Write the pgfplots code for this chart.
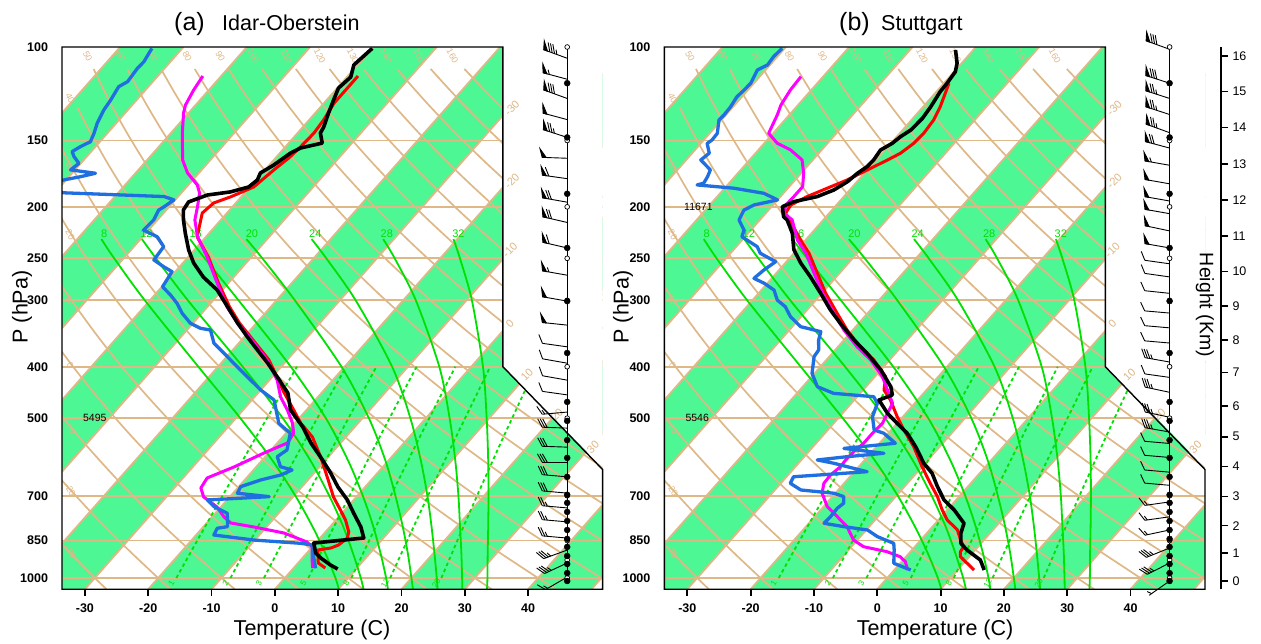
\documentclass[border=0pt]{standalone}
\usepackage{fontspec}
\setmainfont{Liberation Sans}
\usepackage{pgfplots}
\usepackage{pgfplotstable}
\pgfplotsset{compat=1.18}

\definecolor{bandgreen}{RGB}{77,247,148}
\definecolor{tanline}{RGB}{222,184,135}
\definecolor{mgreen}{RGB}{0,225,0}
\definecolor{obsblue}{RGB}{31,111,224}
\definecolor{dewmag}{RGB}{255,0,255}
\definecolor{tred}{RGB}{255,0,0}
\newcommand\fs[1]{\fontsize{#1pt}{#1pt}\selectfont}

\pgfplotsset{
  /pgfplots/table/skewt/.style={x expr={0.54*\thisrow{T}+0.90692*(132.182-19.1354*ln(\thisrow{p}))}, y expr={132.182-19.1354*ln(\thisrow{p})}},
  /pgfplots/table/skewcol/.style={x expr={0.54*\thisrow{#1}+0.90692*(132.182-19.1354*ln(\thisrow{p}))}, y expr={132.182-19.1354*ln(\thisrow{p})}},
  /pgfplots/table/barbcol/.style={x expr=24.08, y expr={132.182-19.1354*ln(\thisrow{p})}},
}

% wind barb mark
\pgfdeclareplotmark{barb}{%
  \pgfscope
  \pgfkeys{/pgf/fpu=false}%
  \pgfmathsetmacro\bang{90-\wdir}%
  \pgfmathtruncatemacro\npen{floor(\wspd/50)}%
  \pgfmathtruncatemacro\nfull{floor((\wspd-50*\npen)/10)}%
  \pgfmathtruncatemacro\nhalf{((\wspd-50*\npen-10*\nfull)>=5) ? 1 : 0}%
  \pgftransformrotate{\bang}%
  \pgfsetlinewidth{0.9pt}%
  \pgfpathmoveto{\pgfpointorigin}%
  \pgfpathlineto{\pgfpoint{25pt}{0pt}}%
  \pgfusepath{stroke}%
  \def\bpos{25}%
  \ifnum\npen>0
    \foreach \k in {1,...,\npen}{%
      \pgfmathsetmacro\ba{25-(\k-1)*5}%
      \pgfpathmoveto{\pgfpoint{\ba pt}{0pt}}%
      \pgfpathlineto{\pgfpoint{\ba pt+2.5pt}{-8.5pt}}%
      \pgfpathlineto{\pgfpoint{\ba pt-4pt}{0pt}}%
      \pgfpathclose
      \pgfusepath{fill,stroke}%
    }%
    \pgfmathsetmacro\bpos{25-\npen*5-1.5}%
  \fi
  \ifnum\nfull>0
    \foreach \k in {1,...,\nfull}{%
      \pgfmathsetmacro\ba{\bpos-(\k-1)*2.5}%
      \pgfpathmoveto{\pgfpoint{\ba pt}{0pt}}%
      \pgfpathlineto{\pgfpoint{\ba pt+4.8pt}{-8.3pt}}%
      \pgfusepath{stroke}%
    }%
  \fi
  \ifnum\nhalf>0
    \pgfmathsetmacro\ba{\bpos-\nfull*2.5-((\npen+\nfull)==0 ? 3 : 0)}%
    \pgfpathmoveto{\pgfpoint{\ba pt}{0pt}}%
    \pgfpathlineto{\pgfpoint{\ba pt+2.4pt}{-4.2pt}}%
    \pgfusepath{stroke}%
  \fi
  \endpgfscope
}

% ---------------- background tables ----------------
\pgfplotstableread{
p d
1050 0
1000 0
950 0
900 0
850 0
800 0
750 0
700 0
650 0
600 0
550 0
500 0
450 0
400 0
350 0
300 0
270 0
240 0
210 0
185 0
165 0
145 0
130 0
120 0
110 0
}\drypA
\pgfplotstableread{
p d
1050 0
1000 0
950 0
900 0
850 0
800 0
750 0
700 0
650 0
600 0
550 0
500 0
450 0
400 0
350 0
300 0
270 0
240 0
210 0
185 0
165 0
145 0
130 0
}\drypB
\pgfplotstableread{
p m8 m12 m16 m20 m24 m28 m32
1050 10.1 14.0 17.85 21.8 25.7 29.6 33.5
1000 8 12 16 20 24 28 32
900 3.05 7.4 11.75 16.05 20.25 24.5 28.65
800 -2.8 2.05 6.8 11.45 16.0 20.5 24.95
700 -9.8 -4.45 0.85 6.0 11.05 15.95 20.7
600 -18.4 -12.4 -6.45 -0.55 5.05 10.5 15.7
500 -29.3 -22.6 -15.8 -9.0 -2.45 3.75 9.6
400 -43.1 -36.1 -28.5 -20.5 -12.5 -5.05 1.85
300 -60.8 -54.0 -46.0 -37.1 -27.5 -18.0 -9.15
250 -71.5 -64.9 -57.2 -48.1 -38.0 -27.2 -16.9
230 -76.2 -69.8 -62.2 -53.3 -43.0 -31.7 -20.6
}\moisttab
\pgfplotstableread{
p w1 w2 w3 w5 w8 w12 w20
1000 -17.13 -8.58 -3.29 3.72 10.51 16.64 24.72
850 -19.05 -10.65 -5.44 1.43 8.10 14.11 22.03
700 -21.30 -13.07 -7.97 -1.24 5.27 11.15 18.89
550 -24.03 -16.01 -11.04 -4.49 1.85 7.57 15.08
400 -27.54 -19.77 -14.98 -8.64 -2.52 2.99 10.23
}\mixtab
\pgfplotstableread{
p d
1000 0
925 0
850 0
700 0
500 0
400 0
300 0
250 0
200 0
150 0
100 0
}\circlev
\pgfplotstableread{
p d
1013 0
979 0
941 0
909 0
874 0
844 0
812 0
781 0
751 0
722 0
697 0
645 0
594 0
550 0
506 0
466 0
377 0
301 0
239 0
189 0
148 0
117 0
}\dotlev

% ---------------- (a) Idar-Oberstein ----------------
\pgfplotstableread{
p T
100.6 -60.0
108.1 -60.6
113.9 -59.4
119.5 -59.8
125.9 -58.9
133.1 -57.9
141.5 -56.7
145.2 -56.4
151.7 -54.7
154.9 -57.4
158.3 -58.3
166.9 -59.3
172.7 -60.3
178.0 -59.8
183.5 -60.2
187.5 -62.4
190.0 -65.6
195.8 -67.6
202.8 -67.3
211.7 -65.9
224.0 -63.8
241.1 -60.9
255.1 -58.3
271.2 -54.8
286.9 -50.8
308.7 -46.8
331.0 -43.0
351.6 -39.5
372.1 -36.1
393.6 -32.7
418.3 -29.2
448.3 -25.3
482.7 -22.5
519.6 -18.2
556.8 -14.7
599.4 -10.5
634.2 -7.4
673.9 -4.3
712.9 -1.0
754.4 1.8
801.5 4.9
840.8 6.9
848.2 4.0
859.3 -0.3
897.4 1.4
917.1 2.9
945.2 5.4
961.8 7.1
}\LBlack
\pgfplotstableread{
p T
113.4 -58.4
119.5 -58.4
127.5 -58.4
137.2 -57.7
145.2 -57.4
154.3 -57.6
161.8 -57.9
170.4 -58.6
183.5 -59.4
191.6 -61.7
196.7 -63.5
205.4 -63.9
227.7 -61.4
248.6 -56.8
278.2 -51.6
308.7 -46.5
331.0 -42.7
360.9 -37.4
388.5 -32.9
423.8 -28.6
446.3 -26.1
482.7 -22.0
510.6 -19.1
542.5 -15.3
591.6 -11.2
653.9 -6.8
703.9 -3.6
744.6 -0.7
777.7 1.5
819.3 3.7
840.8 4.3
866.6 3.9
878.0 3.1
885.7 1.3
937.1 3.2
957.6 5.0
}\LRed
\pgfplotstableread{
p T
113.4 -82.9
120.5 -82.4
128.6 -81.6
133.1 -80.8
145.2 -78.2
163.2 -74.4
172.7 -71.8
181.9 -68.6
188.4 -67.1
200.1 -65.5
211.7 -64.1
227.9 -61.3
233.9 -60.0
248.6 -57.0
278.2 -51.8
308.7 -46.9
331.0 -43.0
360.9 -37.6
388.5 -33.2
423.8 -28.8
456.1 -25.9
482.7 -23.0
510.6 -20.4
533.3 -18.8
556.8 -18.4
581.5 -20.7
618.0 -23.5
648.0 -26.2
676.9 -25.8
703.9 -24.1
735.0 -20.6
767.6 -18.1
787.9 -16.2
801.5 -12.0
822.8 -6.4
855.6 -1.5
874.2 0.0
924.9 1.8
957.6 3.0
}\LMag
\pgfplotstableread{
p T
100.6 -94.8
106.6 -94.2
109.7 -94.3
116.2 -94.0
118.8 -94.7
125.9 -94.1
131.4 -93.8
139.2 -93.0
145.4 -92.1
150.8 -91.5
154.1 -92.4
157.4 -93.0
160.9 -92.0
165.6 -90.3
170.4 -90.7
172.9 -86.3
175.5 -88.2
178.0 -90.4
182.7 -93.2
188.2 -88.6
191.3 -72.2
194.1 -70.2
199.9 -70.8
202.8 -71.2
211.7 -70.6
221.2 -70.8
227.7 -67.7
237.7 -65.3
251.8 -65.0
259.3 -62.5
264.9 -60.5
282.8 -59.9
293.1 -57.5
303.9 -55.3
317.3 -53.1
331.4 -50.4
338.7 -48.1
341.2 -46.3
361.4 -43.9
377.5 -40.9
394.1 -38.0
417.7 -34.0
442.6 -30.0
462.2 -26.5
511.3 -22.5
533.9 -19.3
574.1 -17.5
590.9 -18.1
617.2 -16.2
626.1 -13.9
639.8 -15.0
653.9 -17.5
672.9 -19.7
692.5 -19.3
702.8 -13.8
712.9 -23.1
734.0 -21.1
755.4 -18.1
800.4 -16.2
806.0 -17.6
829.9 -17.2
848.2 -10.2
860.4 -2.3
866.6 -0.3
912.0 1.6
958.8 3.5
}\LBlue
\pgfplotstableread{
p dir spd
105 290 85
115 285 55
125 290 80
137 285 50
148 288 75
162 272 50
177 278 60
196 280 70
214 283 70
239 283 60
269 280 55
301 280 50
334 276 50
367 278 10
394 280 10
424 280 10
452 278 10
487 265 15
522 272 30
567 272 30
605 270 30
645 275 30
692 275 30
738 275 25
784 275 25
841 275 25
886 250 35
937 245 35
996 240 15
}\LBarbs

% ---------------- (b) Stuttgart ----------------
\pgfplotstableread{
p T
101.3 -62.8
107.3 -60.7
111.3 -59.8
117.0 -59.5
121.4 -59.4
129.6 -58.8
136.2 -58.5
143.3 -58.7
147.5 -59.4
151.9 -59.8
156.3 -60.7
163.2 -60.4
168.0 -60.5
172.9 -61.1
179.3 -61.5
185.9 -62.5
191.3 -64.2
195.6 -67.2
199.9 -68.3
208.8 -66.7
211.7 -65.7
224.4 -63.0
240.8 -60.5
255.4 -57.5
270.9 -54.1
290.9 -50.2
312.9 -46.3
331.4 -42.9
356.3 -38.4
377.5 -34.5
405.7 -30.0
436.2 -26.1
452.1 -24.7
462.2 -26.1
489.7 -22.9
511.3 -20.0
533.9 -17.0
566.0 -13.8
608.1 -10.2
635.1 -7.5
672.9 -4.8
712.9 -1.9
744.6 1.1
788.8 4.5
824.1 5.4
860.4 6.8
885.7 8.7
924.9 12.2
965.9 14.2
}\RBlack
\pgfplotstableread{
p T
117.0 -59.2
124.1 -58.1
129.6 -57.3
137.2 -56.5
145.4 -56.2
151.9 -56.4
158.5 -57.1
163.2 -58.2
170.4 -60.0
178.0 -61.8
184.5 -63.8
191.3 -65.8
198.4 -67.2
205.6 -66.9
215.0 -64.5
230.9 -60.8
244.6 -57.6
266.8 -53.5
290.9 -49.4
317.3 -44.8
341.2 -40.9
366.8 -36.5
388.5 -32.5
417.7 -28.3
442.6 -26.7
462.2 -24.3
496.9 -20.9
526.2 -18.0
566.0 -14.1
617.2 -10.0
663.3 -6.4
702.8 -3.4
744.6 -0.8
777.7 1.4
812.0 4.4
848.2 6.3
873.1 7.7
892.2 7.9
912.0 8.6
931.8 10.1
965.9 12.6
}\RRed
\pgfplotstableread{
p T
113.7 -83.5
120.5 -83.3
128.6 -82.7
134.2 -81.9
145.4 -80.7
151.9 -77.9
156.3 -74.9
163.2 -71.7
172.9 -69.6
183.2 -67.9
191.3 -67.9
198.4 -68.0
205.6 -67.1
211.7 -64.9
230.9 -61.3
244.6 -58.1
266.8 -54.0
290.9 -49.9
317.3 -45.3
341.2 -41.4
366.8 -37.0
388.5 -33.0
417.7 -28.8
449.0 -25.5
468.8 -23.5
489.7 -22.9
511.3 -22.3
533.9 -22.5
557.5 -22.5
578.2 -22.9
599.4 -23.0
617.2 -22.9
639.8 -23.3
663.3 -23.2
692.5 -22.1
734.0 -19.4
766.8 -16.4
800.4 -13.5
848.2 -10.6
873.1 -8.1
892.2 -3.7
912.0 -0.9
931.8 0.6
965.9 2.1
}\RMag
\pgfplotstableread{
p T
100.6 -90.4
104.3 -90.6
108.1 -90.4
110.5 -91.3
117.0 -90.5
120.5 -90.6
124.1 -90.8
129.6 -90.4
134.2 -90.3
137.2 -90.4
145.4 -88.8
149.7 -88.7
151.9 -89.0
158.5 -87.3
163.2 -87.7
170.4 -84.8
175.5 -84.3
180.5 -84.0
181.9 -84.8
184.5 -78.5
188.6 -73.1
194.1 -70.0
198.4 -73.0
202.8 -73.9
211.7 -73.3
221.2 -71.1
227.7 -70.5
237.7 -66.7
244.6 -65.3
253.7 -61.7
263.0 -62.4
272.7 -62.8
278.6 -60.5
286.9 -58.0
299.6 -56.1
308.4 -53.9
322.0 -51.7
336.3 -48.7
338.7 -47.4
343.7 -44.8
356.3 -44.0
372.1 -42.6
382.9 -42.4
411.6 -40.4
436.2 -37.7
449.0 -34.2
455.6 -27.4
468.8 -25.9
496.9 -24.8
526.2 -22.7
533.9 -20.7
557.5 -17.5
570.1 -24.9
582.3 -17.9
590.9 -23.2
599.4 -27.5
608.1 -24.4
621.5 -20.6
630.7 -18.0
644.6 -28.9
663.3 -28.5
682.8 -25.9
692.5 -20.2
702.8 -18.2
723.3 -17.3
739.1 -17.6
766.8 -17.5
788.8 -17.6
800.4 -14.0
812.0 -9.8
836.0 -7.3
860.4 -3.8
885.7 -2.8
912.0 -1.9
938.3 -1.0
965.9 2.6
}\RBlue
\pgfplotstableread{
p dir spd
101 290 80
117 288 80
125 288 75
134 288 75
145 290 75
155 285 70
167 280 55
181 280 50
195 280 50
206 280 50
222 282 50
239 280 50
256 278 10
271 278 10
291 276 10
317 275 10
338 275 10
361 275 10
392 280 35
419 278 10
447 282 35
498 282 35
531 280 35
558 275 10
593 275 10
632 275 10
669 275 10
719 262 15
767 262 15
812 258 15
878 248 35
937 243 35
1013 235 5
}\RBarbs

% ---------------- common drawing ----------------
\newcommand\skewbg{%
  \pgfplotsinvokeforeach{-120,-100,...,40}{%
    \fill[bandgreen] (axis cs:{0.54*##1-0.84761},-0.9346) -- (axis cs:{0.54*(##1+10)-0.84761},-0.9346) -- (axis cs:{0.54*(##1+10)+39.960},44.061) -- (axis cs:{0.54*##1+39.960},44.061) -- cycle;}
  \pgfplotsinvokeforeach{-120,-110,...,50}{%
    \draw[tanline, line width=1.8pt] (axis cs:{0.54*##1-0.84761},-0.9346) -- (axis cs:{0.54*##1+39.960},44.061);}
  \pgfplotsinvokeforeach{0,3.109,6.825,13.263,17.532,23.037,26.526,30.796,36.301}{%
    \draw[tanline, line width=1.8pt] (axis cs:-19,##1) -- (axis cs:27.1,##1);}
  \pgfplotsinvokeforeach{50,60,...,160}{%
    \addplot[tanline, line width=1.7pt, smooth, mark=none] table[x expr={0.54*((##1+273.15)*(\thisrow{p}/1000)^0.28571-273.15)+0.90692*(132.182-19.1354*ln(\thisrow{p}))}, y expr={132.182-19.1354*ln(\thisrow{p})}] {\drypA};
    \node[text=tanline, font=\fs{9}, rotate=-62] at (axis cs:{0.54*((##1+273.15)*0.5238-273.15)+39.28},43.3) {##1};}
  \pgfplotsinvokeforeach{-30,-20,...,40}{%
    \addplot[tanline, line width=1.7pt, smooth, mark=none] table[x expr={0.54*((##1+273.15)*(\thisrow{p}/1000)^0.28571-273.15)+0.90692*(132.182-19.1354*ln(\thisrow{p}))}, y expr={132.182-19.1354*ln(\thisrow{p})}] {\drypB};}
  \pgfplotsinvokeforeach{m8,m12,m16,m20,m24,m28,m32}{%
    \addplot[mgreen, line width=1.8pt, smooth, mark=none] table[skewcol=##1] {\moisttab};}
  \pgfplotsinvokeforeach{w1,w2,w3,w5,w8,w12,w20}{%
    \addplot[mgreen, line width=1.8pt, dash pattern=on 3.5pt off 3pt, mark=none] table[skewcol=##1] {\mixtab};}
  % dry adiabat labels on left edge
  \node[text=tanline, font=\fs{9}, rotate=-62] at (axis cs:-18.3,39.83) {40};
  \node[text=tanline, font=\fs{9}, rotate=-62] at (axis cs:-18.3,34.11) {30};
  \node[text=tanline, font=\fs{9}, rotate=-62] at (axis cs:-18.3,28.47) {20};
  \node[text=tanline, font=\fs{9}, rotate=-62] at (axis cs:-18.3,23.07) {10};
  \node[text=tanline, font=\fs{9}, rotate=-62] at (axis cs:-18.3,17.68) {0};
  \node[text=tanline, font=\fs{9}, rotate=-62] at (axis cs:-18.3,12.45) {-10};
  \node[text=tanline, font=\fs{9}, rotate=-62] at (axis cs:-18.3,7.31) {-20};
  \node[text=tanline, font=\fs{9}, rotate=-62] at (axis cs:-18.3,2.16) {-30};
  % moist adiabat labels
  \node[text=mgreen, font=\fs{11}] at (axis cs:-15.4,28.55) {8};
  \node[text=mgreen, font=\fs{11}] at (axis cs:-11.8,28.55) {12};
  \node[text=mgreen, font=\fs{11}] at (axis cs:-7.6,28.55) {16};
  \node[text=mgreen, font=\fs{11}] at (axis cs:-2.8,28.55) {20};
  \node[text=mgreen, font=\fs{11}] at (axis cs:2.6,28.55) {24};
  \node[text=mgreen, font=\fs{11}] at (axis cs:8.7,28.55) {28};
  \node[text=mgreen, font=\fs{11}] at (axis cs:14.8,28.55) {32};
  % mixing ratio labels
  \node[text=mgreen, font=\fs{8}, rotate=60] at (axis cs:-9.68,-0.45) {1};
  \node[text=mgreen, font=\fs{8}, rotate=60] at (axis cs:-5.06,-0.45) {2};
  \node[text=mgreen, font=\fs{8}, rotate=60] at (axis cs:-2.21,-0.45) {3};
  \node[text=mgreen, font=\fs{8}, rotate=60] at (axis cs:1.58,-0.45) {5};
  \node[text=mgreen, font=\fs{8}, rotate=60] at (axis cs:5.25,-0.45) {8};
  \node[text=mgreen, font=\fs{8}, rotate=60] at (axis cs:8.56,-0.45) {12};
  \node[text=mgreen, font=\fs{8}, rotate=60] at (axis cs:12.92,-0.45) {20};
}

\newcommand\skewfg[2]{%
  \fill[white] (axis cs:18.6,44.3) -- (axis cs:27.3,44.3) -- (axis cs:27.3,9.0) -- (axis cs:18.6,17.53119) -- cycle;
  \node[text=tanline, font=\fs{11}, rotate=45] at (axis cs:19.37,39.0) {-30};
  \node[text=tanline, font=\fs{11}, rotate=45] at (axis cs:19.37,32.95) {-20};
  \node[text=tanline, font=\fs{11}, rotate=45] at (axis cs:19.2,27.22) {-10};
  \node[text=tanline, font=\fs{11}, rotate=45] at (axis cs:19.2,21.08) {0};
  \node[text=tanline, font=\fs{11}, rotate=45] at (axis cs:20.65,16.85) {10};
  \node[text=tanline, font=\fs{11}, rotate=45] at (axis cs:23.21,13.53) {20};
  \node[text=tanline, font=\fs{11}, rotate=45] at (axis cs:26.28,10.87) {30};
  \draw[black, line width=1.1pt] (axis cs:24.08,44.061) -- (axis cs:24.08,-0.25);
  \addplot[scatter, only marks, mark=barb, scatter/use mapped color={draw=black,fill=black}, point meta=\thisrow{spd}, visualization depends on={\thisrow{dir} \as \wdir}, visualization depends on={\thisrow{spd} \as \wspd}] table[barbcol] {#1};
  \addplot[only marks, mark=*, mark size=2.4pt, mark options={fill=white, draw=black, line width=0.7pt}] table[barbcol] {\circlev};
  \addplot[only marks, mark=*, mark size=3pt, black] table[barbcol] {\dotlev};
  \coordinate (#2a) at (axis cs:-19,-0.9346);
  \coordinate (#2b) at (axis cs:27.1,-0.9346);
  \coordinate (#2c) at (axis cs:27.1,9.0);
  \coordinate (#2d) at (axis cs:18.6,17.53119);
  \coordinate (#2e) at (axis cs:18.6,44.061);
  \coordinate (#2f) at (axis cs:-19,44.061);
}

\pgfplotsset{skewaxis/.style={
  anchor=south west, scale only axis, width=540.6pt, height=542.25pt,
  xmin=-19, xmax=27.1, ymin=-0.9346, ymax=44.061,
  axis x line=bottom, axis y line=left, axis line style={draw=none},
  xtick={-17.048,-11.648,-6.248,-0.848,4.552,9.952,15.352,20.752},
  xticklabels={-30,-20,-10,0,10,20,30,40},
  ytick={0,3.109,6.825,13.263,17.532,23.037,26.526,30.796,36.301,44.06},
  yticklabels={1000,850,700,500,400,300,250,200,150,100},
  tick align=outside, major tick length=6.5pt,
  xtick style={black, line width=1.8pt},
  ytick style={draw=none},
  tick label style={font=\fs{12.5}\bfseries},
  yticklabel style={xshift=-4pt},
  xticklabel style={yshift=-4pt},
}}

\begin{document}
\begin{tikzpicture}
\useasboundingbox (0,0) rectangle (1261pt,-643pt);

% ---------- panel (a) ----------
\begin{axis}[skewaxis, at={(62pt,-589.25pt)}]
\skewbg
\addplot[tred, line width=3pt, mark=none, line join=round] table[skewt] {\LRed};
\addplot[dewmag, line width=3pt, mark=none, line join=round] table[skewt] {\LMag};
\addplot[obsblue, line width=3.3pt, mark=none, line join=round] table[skewt] {\LBlue};
\addplot[black, line width=3.6pt, mark=none, line join=round] table[skewt] {\LBlack};
\node[font=\fs{10.5}] at (axis cs:-16.2,13.263) {5495};
\skewfg{\LBarbs}{L}
\end{axis}
\draw[black, line width=1.4pt] (La) -- (Lb) -- (Lc) -- (Ld) -- (Le) -- (Lf) -- cycle;

% ---------- panel (b) ----------
\begin{axis}[skewaxis, at={(664.4pt,-589.25pt)}]
\skewbg
\addplot[tred, line width=3pt, mark=none, line join=round] table[skewt] {\RRed};
\addplot[dewmag, line width=3pt, mark=none, line join=round] table[skewt] {\RMag};
\addplot[obsblue, line width=3.3pt, mark=none, line join=round] table[skewt] {\RBlue};
\addplot[black, line width=3.6pt, mark=none, line join=round] table[skewt] {\RBlack};
\node[font=\fs{10.5}] at (axis cs:-16.2,13.263) {5546};
\node[font=\fs{10.5}] at (axis cs:-16.1,30.796) {11671};
\skewfg{\RBarbs}{R}
\end{axis}
\draw[black, line width=1.4pt] (Ra) -- (Rb) -- (Rc) -- (Rd) -- (Re) -- (Rf) -- cycle;

% ---------- height axis ----------
\begin{axis}[at={(1221pt,-589.25pt)}, anchor=south east, scale only axis, width=5pt, height=542.25pt,
  xmin=0, xmax=1, ymin=-0.9346, ymax=44.061,
  axis x line=none, axis y line=right, axis line style={black, line width=1.3pt, -},
  ytick={-0.25,2.05,4.34,6.75,9.24,11.72,14.27,17.04,19.75,22.57,25.42,28.38,31.37,34.36,37.37,40.36,43.32},
  yticklabels={0,1,2,3,4,5,6,7,8,9,10,11,12,13,14,15,16},
  ytick style={black, line width=1.6pt}, tick align=outside, major tick length=7pt,
  tick label style={font=\fs{12.5}}, yticklabel style={xshift=1pt}]
\addplot[draw=none, mark=none] coordinates {(0,0)};
\end{axis}

% ---------- titles and labels ----------
\node[anchor=base west, inner sep=0, font=\fs{25}] at (174pt,-30pt) {(a)};
\node[anchor=base west, inner sep=0, font=\fs{21.5}] at (222pt,-30pt) {Idar-Oberstein};
\node[anchor=base west, inner sep=0, font=\fs{25}] at (839pt,-30pt) {(b)};
\node[anchor=base west, inner sep=0, font=\fs{21.5}] at (881pt,-30pt) {Stuttgart};
\node[anchor=base, inner sep=0, font=\fs{21.5}] at (312pt,-635pt) {Temperature (C)};
\node[anchor=base, inner sep=0, font=\fs{21.5}] at (935pt,-635pt) {Temperature (C)};
\node[rotate=90, inner sep=0, font=\fs{21.5}] at (22pt,-307pt) {P (hPa)};
\node[rotate=90, inner sep=0, font=\fs{21.5}] at (623pt,-307pt) {P (hPa)};
\node[rotate=-90, inner sep=0, font=\fs{19.5}] at (1205pt,-305pt) {Height (Km)};
\end{tikzpicture}
\end{document}
